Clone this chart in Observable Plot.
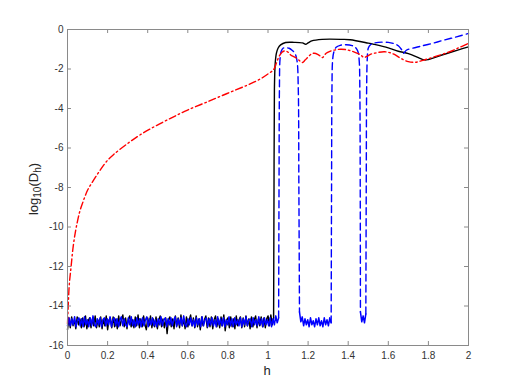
<!DOCTYPE html>
<html>
<head>
<meta charset="utf-8">
<script src="https://cdn.jsdelivr.net/npm/d3@7"></script>
<script src="https://cdn.jsdelivr.net/npm/@observablehq/plot@0.6"></script>
<style>
  html, body { margin: 0; padding: 0; background: #fff; }
  #chart svg { display: block; }
</style>
</head>
<body>
<div id="chart"></div>
<script>
// ---- tick values ----
const xTicks = [0, 0.2, 0.4, 0.6, 0.8, 1, 1.2, 1.4, 1.6, 1.8, 2];
const yTicks = [0, -2, -4, -6, -8, -10, -12, -14, -16];

// ---- black (solid) series: noise floor then upper branch ----
const blackNoiseRange = [0, 1.028];
const blackNoise = [
  -15.20,-14.60,-15.10,-14.55,-15.00,-14.70,-15.15,-14.55,-14.95,-14.65,
  -15.10,-14.60,-15.05,-14.50,-15.15,-14.75,-14.60,-15.10,-14.65,-15.00,
  -14.50,-15.10,-14.70,-15.05,-14.55,-15.15,-14.65,-15.00,-14.50,-15.20,
  -14.70,-14.60,-15.10,-14.55,-15.05,-14.65,-15.15,-14.50,-15.00,-14.70,
  -14.45,-15.05,-14.60,-15.15,-14.65,-14.50,-15.05,-14.70,-15.10,-14.55,
  -15.00,-14.45,-15.10,-14.65,-15.05,-14.50,-14.95,-15.20,-14.60,-15.00,
  -14.50,-15.10,-14.65,-15.05,-14.55,-15.15,-14.70,-14.50,-15.05,-14.65,
  -15.10,-14.60,-15.40,-14.70,-14.55,-15.05,-14.65,-15.15,-14.50,-15.00,
  -14.60,-15.10,-14.45,-15.00,-14.65,-15.15,-14.55,-15.05,-14.70,-14.45,
  -15.00,-14.60,-15.10,-14.50,-15.05,-14.65,-15.20,-14.55,-15.00,-14.70,
  -14.50,-15.10,-14.60,-15.05,-14.55,-15.15,-14.70,-14.50,-15.05,-14.65,
  -15.10,-14.55,-15.00,-14.45,-15.25,-14.70,-14.60,-15.10,-14.55,-15.05,
  -14.65,-15.15,-14.50,-15.00,-14.70,-14.55,-15.10,-14.60,-15.05,-14.50,
  -15.00,-14.65,-15.15,-14.55,-15.05,-14.70,-14.50,-15.10,-14.65,-15.00,
  -14.55,-15.05,-14.60,-15.10,-14.65,-14.50,-15.00,-14.45,-14.95,-14.60
];
const blackUpperH = [1.028,1.030,1.032,1.036,1.042,1.050,1.063,1.088,1.130,1.172,1.188,1.200,1.218,1.270,1.370,1.410,1.500,1.528,1.600,1.650,1.700,1.750,1.780,1.800,1.884,1.950,2.000];
const blackUpperV = [-14.60,-8.0,-3.0,-1.70,-1.20,-0.95,-0.78,-0.66,-0.65,-0.68,-0.75,-0.68,-0.58,-0.50,-0.50,-0.52,-0.69,-0.75,-0.93,-1.10,-1.22,-1.42,-1.54,-1.52,-1.24,-1.03,-0.88];

// ---- blue (dashed) series ----
const blueNoiseARange = [0, 1.053];
const blueNoiseA = [
  -15.00,-14.60,-15.00,-14.65,-14.95,-14.55,-15.05,-14.70,-14.60,-15.00,
  -14.65,-15.05,-14.55,-14.95,-14.70,-15.05,-14.60,-15.00,-14.50,-14.95,
  -15.05,-14.65,-14.95,-14.60,-15.05,-14.70,-14.60,-15.00,-14.65,-14.95,
  -14.55,-15.05,-14.70,-14.60,-15.00,-14.65,-15.05,-14.70,-14.55,-15.00,
  -14.65,-14.95,-15.05,-14.60,-14.95,-14.55,-15.00,-14.70,-15.05,-14.60,
  -14.95,-14.65,-15.05,-14.60,-15.00,-14.70,-14.55,-15.05,-14.65,-14.95,
  -14.60,-15.00,-14.70,-15.05,-14.65,-14.95,-14.55,-15.00,-14.70,-14.60,
  -15.05,-14.65,-14.95,-14.60,-15.00,-14.70,-14.55,-15.05,-14.65,-14.95,
  -14.60,-15.00,-14.50,-14.95,-15.05,-14.65,-14.95,-14.60,-15.00,-14.70,
  -15.05,-14.60,-14.95,-14.65,-15.05,-14.55,-15.00,-14.70,-14.60,-15.05,
  -14.65,-14.95,-14.60,-15.00,-14.70,-15.05,-14.55,-14.95,-14.65,-15.00,
  -14.60,-15.05,-14.70,-14.95,-14.55,-15.00,-14.65,-15.05,-14.60,-14.95,
  -14.70,-15.00,-14.60,-15.05,-14.65,-14.95,-14.55,-15.00,-14.70,-14.65,
  -15.05,-14.60,-14.95,-14.70,-15.00,-14.55,-14.95,-14.65,-15.05,-14.60,
  -14.95,-14.70,-15.00,-14.60,-15.05,-14.65,-14.95,-14.50,-14.85,-14.60
];
const blueNoiseBRange = [1.157, 1.315];
const blueNoiseB = [-14.30,-14.80,-14.55,-15.00,-14.65,-14.95,-14.70,-15.05,-14.60,-14.95,-14.75,-15.05,-14.65,-14.95,-14.60,-15.00,-14.75,-15.05,-14.60,-14.95,-14.70,-15.00,-14.60,-14.85];
const blueNoiseCRange = [1.461, 1.488];
const blueNoiseC = [-14.30,-14.80,-14.50,-14.85,-14.40];

const blueSegAH = [1.053,1.055,1.057,1.060,1.066,1.075,1.088,1.105,1.120,1.135,1.145,1.151,1.154,1.157];
const blueSegAV = [-14.60,-8.0,-3.0,-1.50,-1.10,-0.95,-0.92,-0.95,-1.05,-1.22,-1.60,-3.0,-8.0,-14.30];
const blueSegBH = [1.315,1.317,1.319,1.322,1.328,1.340,1.360,1.390,1.420,1.435,1.448,1.455,1.458,1.460,1.461];
const blueSegBV = [-14.85,-8.0,-3.0,-1.60,-1.15,-0.90,-0.80,-0.77,-0.82,-0.90,-1.10,-1.60,-3.0,-8.0,-14.30];
const blueSegCH = [1.488,1.490,1.492,1.495,1.500,1.510,1.526,1.550,1.600,1.630,1.650,1.665,1.676,1.690,1.720,1.760,1.820,1.877,1.940,2.000];
const blueSegCV = [-14.40,-8.0,-3.0,-1.50,-0.95,-0.78,-0.70,-0.65,-0.65,-0.72,-0.82,-1.00,-1.20,-1.05,-0.95,-0.85,-0.70,-0.54,-0.37,-0.20];

// ---- red (dash-dot) series ----
const redH = [0,0.004,0.009,0.018,0.027,0.038,0.050,0.063,0.080,0.100,0.130,0.163,0.200,0.230,0.296,0.363,0.446,0.529,0.596,0.696,0.796,0.896,0.962,1.000,1.028,1.042,1.055,1.070,1.085,1.100,1.113,1.138,1.160,1.172,1.185,1.197,1.215,1.230,1.250,1.265,1.272,1.290,1.310,1.336,1.363,1.390,1.413,1.440,1.463,1.478,1.495,1.513,1.545,1.578,1.600,1.628,1.660,1.700,1.734,1.760,1.786,1.840,1.900,1.950,2.000];
const redV = [-14.9,-13.9,-12.9,-12.0,-11.1,-10.33,-9.7,-9.15,-8.65,-8.14,-7.63,-7.12,-6.62,-6.33,-5.80,-5.33,-4.85,-4.42,-4.09,-3.67,-3.24,-2.82,-2.50,-2.25,-2.03,-1.70,-1.37,-1.15,-1.08,-1.15,-1.29,-1.42,-1.60,-1.67,-1.55,-1.42,-1.25,-1.20,-1.27,-1.38,-1.42,-1.20,-1.10,-1.03,-1.00,-1.02,-1.08,-1.18,-1.29,-1.42,-1.35,-1.25,-1.17,-1.13,-1.15,-1.25,-1.45,-1.63,-1.66,-1.60,-1.52,-1.35,-1.15,-0.93,-0.70];

// ---- build tables ----
function noiseTable(range, vals) {
  const n = vals.length;
  return vals.map((v, i) => ({h: range[0] + (range[1] - range[0]) * i / (n - 1), v}));
}
function pairTable(hs, vs) { return hs.map((h, i) => ({h, v: vs[i]})); }

const blackNoiseData = noiseTable(blackNoiseRange, blackNoise);
const blackUpperData = pairTable(blackUpperH, blackUpperV);
const blueNoiseData = [
  ...noiseTable(blueNoiseARange, blueNoiseA).map(d => ({...d, s: "A"})),
  ...noiseTable(blueNoiseBRange, blueNoiseB).map(d => ({...d, s: "B"})),
  ...noiseTable(blueNoiseCRange, blueNoiseC).map(d => ({...d, s: "C"}))
];
const blueUpperData = [
  ...pairTable(blueSegAH, blueSegAV).map(d => ({...d, s: "A"})),
  ...pairTable(blueSegBH, blueSegBV).map(d => ({...d, s: "B"})),
  ...pairTable(blueSegCH, blueSegCV).map(d => ({...d, s: "C"}))
];
const redData = pairTable(redH, redV);

const W = 517, H = 388;
const mL = 67, mR = 49, mT = 29, mB = 43;
const frameW = W - mL - mR, frameH = H - mT - mB;
const tickLen = 4;
const axisColor = "#8a8a8a";
const fmt = d => String(d).replace("\u2212", "-");

const chart = Plot.plot({
  width: W, height: H,
  marginLeft: mL, marginRight: mR, marginTop: mT, marginBottom: mB,
  style: {fontFamily: "'Liberation Sans', Arial, Helvetica, sans-serif", fontSize: "10px", color: "#333", background: "#fff", overflow: "visible"},
  x: {domain: [0, 2]},
  y: {domain: [-16, 0]},
  marks: [
    Plot.line(blackNoiseData, {x: "h", y: "v", stroke: "#000", strokeWidth: 1.4}),
    Plot.line(blackUpperData, {x: "h", y: "v", stroke: "#000", strokeWidth: 1.4, curve: "catmull-rom"}),
    Plot.line(blueNoiseData, {x: "h", y: "v", z: "s", stroke: "#0000ff", strokeWidth: 1.5}),
    Plot.line(blueUpperData, {x: "h", y: "v", z: "s", stroke: "#0000ff", strokeWidth: 1.4, strokeDasharray: "7,4", curve: "catmull-rom"}),
    Plot.line(redData, {x: "h", y: "v", stroke: "#ff0000", strokeWidth: 1.4, strokeDasharray: "7,3,1.5,3", curve: "catmull-rom"}),
    Plot.frame({stroke: axisColor, strokeWidth: 1}),
    // inward ticks: bottom, top, left, right
    Plot.ruleX(xTicks, {x: d => d, stroke: axisColor, insetTop: frameH - tickLen}),
    Plot.ruleX(xTicks, {x: d => d, stroke: axisColor, insetBottom: frameH - tickLen}),
    Plot.ruleY(yTicks, {y: d => d, stroke: axisColor, insetRight: frameW - tickLen}),
    Plot.ruleY(yTicks, {y: d => d, stroke: axisColor, insetLeft: frameW - tickLen}),
    Plot.axisX(xTicks, {tickSize: 0, tickPadding: 6, tickFormat: fmt, label: null, fill: "#333"}),
    Plot.axisY(yTicks, {tickSize: 0, tickPadding: 4, tickFormat: fmt, label: null, fill: "#333"})
  ]
});

const svg = d3.select(chart);
const labelFont = "'Liberation Sans', Arial, Helvetica, sans-serif";
svg.append("text")
  .attr("x", 267).attr("y", 375)
  .attr("text-anchor", "middle")
  .attr("font-family", labelFont).attr("font-size", 13).attr("fill", "#262626")
  .text("h");

const yl = svg.append("text")
  .attr("transform", "translate(38,189) rotate(-90)")
  .attr("text-anchor", "middle")
  .attr("font-family", labelFont).attr("font-size", 13).attr("fill", "#262626");
yl.append("tspan").text("log");
yl.append("tspan").attr("dy", 3).attr("font-size", 10).text("10");
yl.append("tspan").attr("dy", -3).text("(D");
yl.append("tspan").attr("dy", 3).attr("font-size", 10).text("h");
yl.append("tspan").attr("dy", -3).text(")");

document.getElementById("chart").appendChild(chart);
</script>
</body>
</html>
